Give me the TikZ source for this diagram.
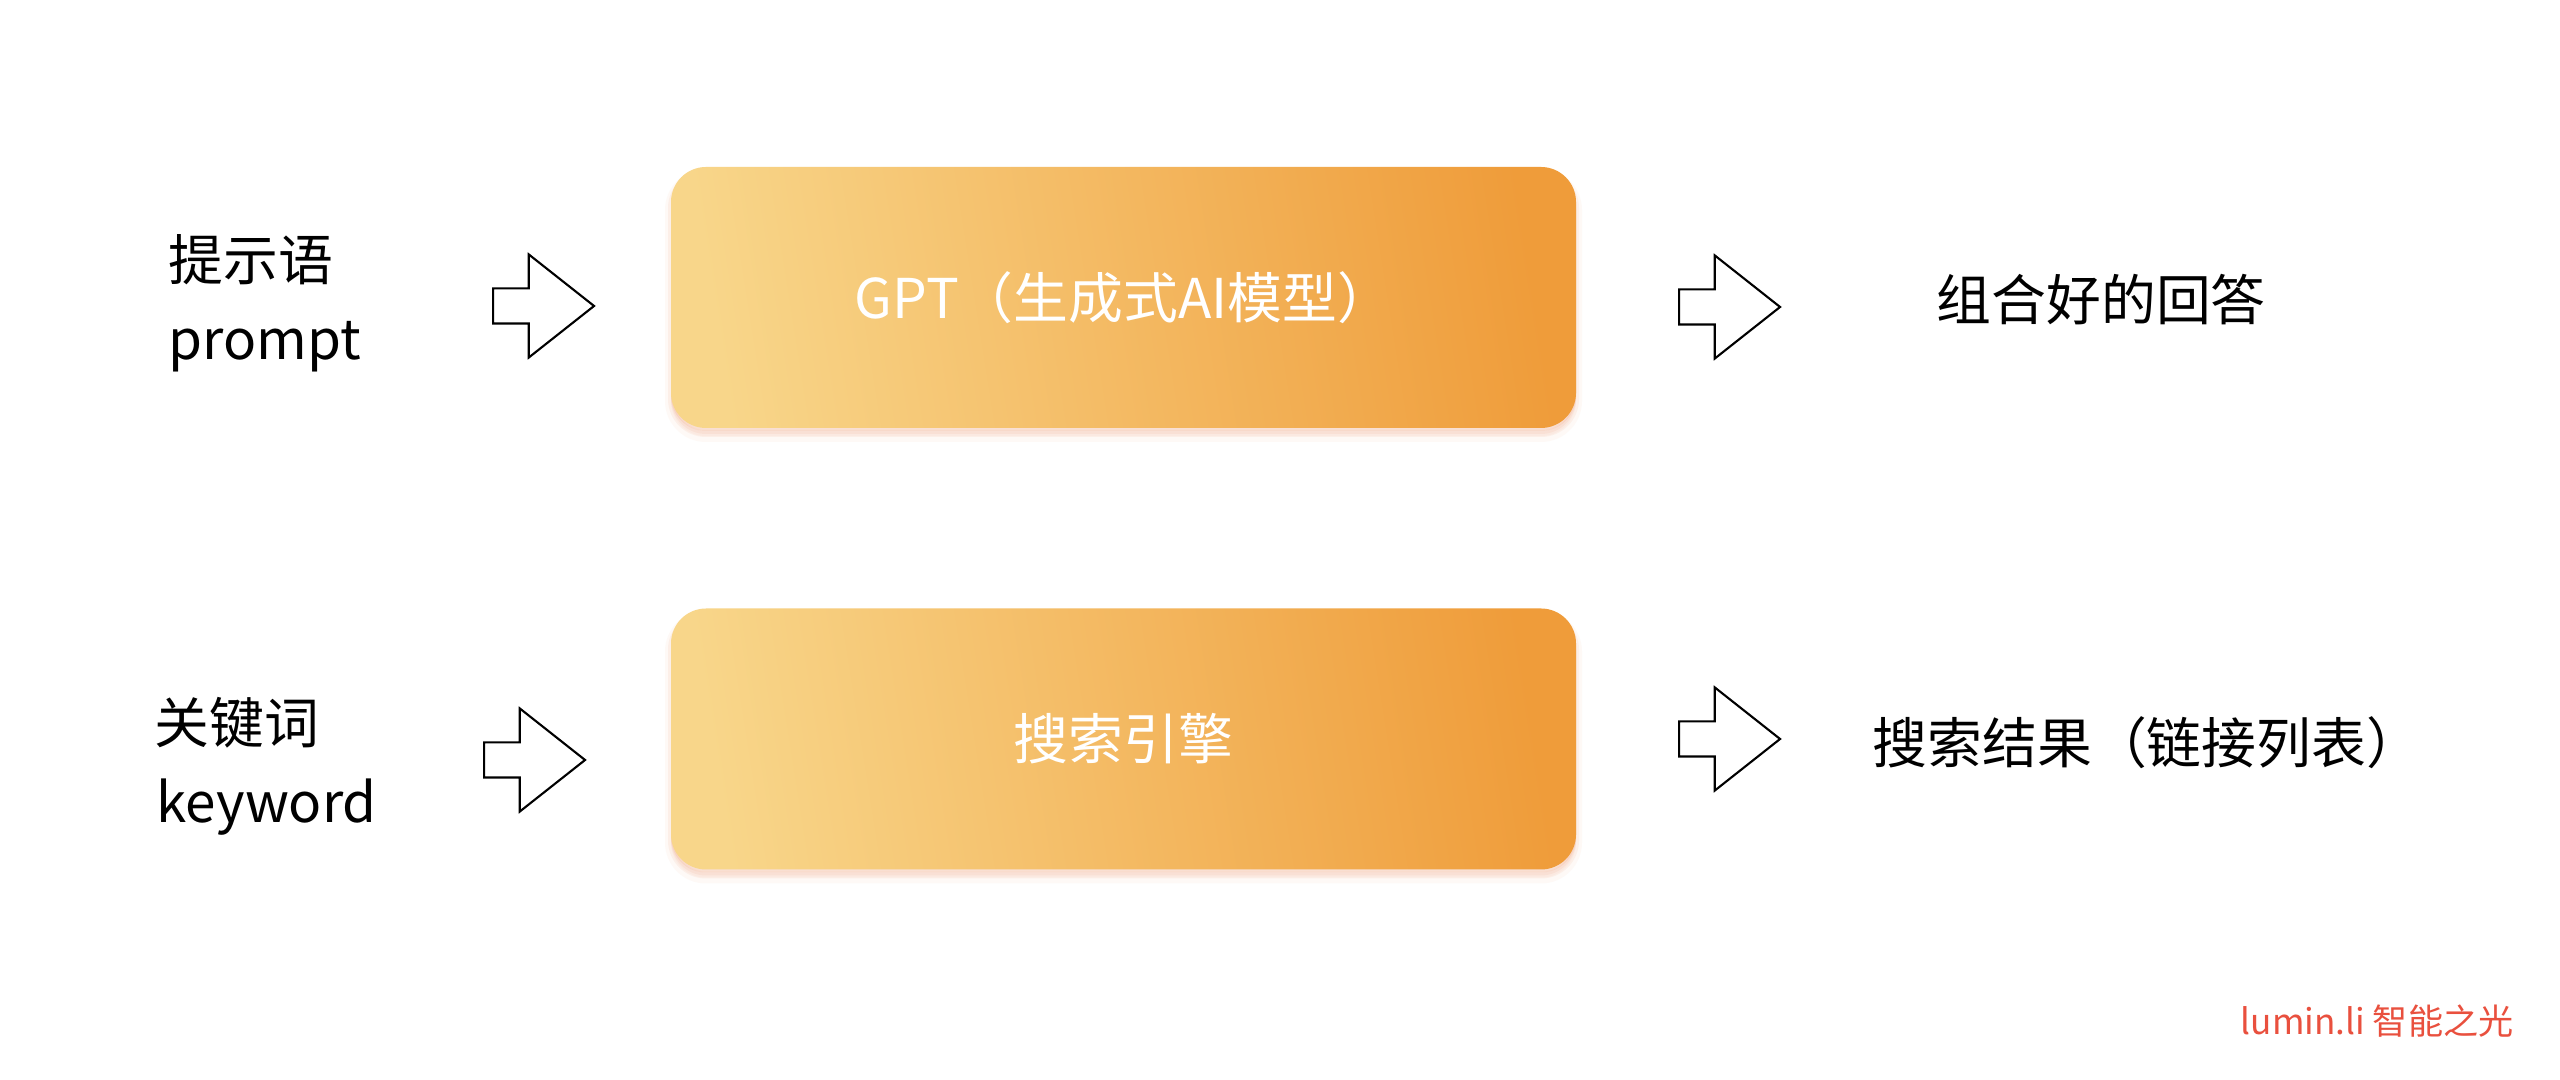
\documentclass[tikz,border=0pt]{standalone}
\usepackage{fontspec}
\setmainfont{Noto Sans CJK SC}
\usepackage{xcolor}
\usetikzlibrary{shapes.arrows}

\definecolor{boxlight}{HTML}{F8D68A}
\definecolor{boxdark}{HTML}{EF9C3A}
\definecolor{shadowpeach}{HTML}{F09A70}
\definecolor{markred}{HTML}{E9503E}

\begin{document}
\begin{tikzpicture}[
    labeltext/.style={font=\fontsize{15.6}{18}\selectfont, inner sep=0pt, anchor=base west},
    enginebox/.style={rectangle, rounded corners=0.35cm, minimum width=9.05cm, minimum height=2.61cm,
      preaction={fill=shadowpeach, draw=shadowpeach, line width=0.12cm, opacity=0.06, transform canvas={yshift=-0.08cm}},
      preaction={fill=shadowpeach, draw=shadowpeach, line width=0.06cm, opacity=0.10, transform canvas={yshift=-0.06cm}},
      preaction={fill=shadowpeach, opacity=0.18, transform canvas={yshift=-0.03cm}},
      left color=boxlight, right color=boxdark, shading angle=99,
      text=white, font=\fontsize{15.6}{18}\selectfont},
    flowarrow/.style={single arrow, draw=black, fill=white, line width=0.6pt, inner sep=0pt, inner ysep=0.165cm,
      minimum height=1.01cm, single arrow head extend=0.34cm, single arrow tip angle=76.6, anchor=tail},
  ]
  \fill[white] (0, 0) rectangle (25.6, 10.8);
  \useasboundingbox (0, 0) rectangle (25.6, 10.8);

  \node[labeltext] (p1) at (1.68, 7.99) {提示语};
  \node[labeltext] (p2) at (1.68, 7.20) {prompt};
  \node[flowarrow] (a1) at (4.92, 7.74) {};
  \node[enginebox] (gpt) at (11.235, 7.825) {GPT（生成式AI模型）};
  \node[flowarrow] (a2) at (16.78, 7.73) {};
  \node[labeltext] (ans) at (19.36, 7.59) {组合好的回答};

  \node[labeltext] (k1) at (1.54, 3.36) {关键词};
  \node[labeltext] (k2) at (1.56, 2.57) {keyword};
  \node[flowarrow] (a3) at (4.83, 3.20) {};
  \node[enginebox] (se) at (11.235, 3.41) {搜索引擎};
  \node[flowarrow] (a4) at (16.78, 3.41) {};
  \node[labeltext] (res) at (18.72, 3.16) {搜索结果（链接列表）};

  \node[labeltext, font=\fontsize{10}{12}\selectfont, text=markred] (mark) at (22.40, 0.45) {lumin.li 智能之光};
\end{tikzpicture}
\end{document}
